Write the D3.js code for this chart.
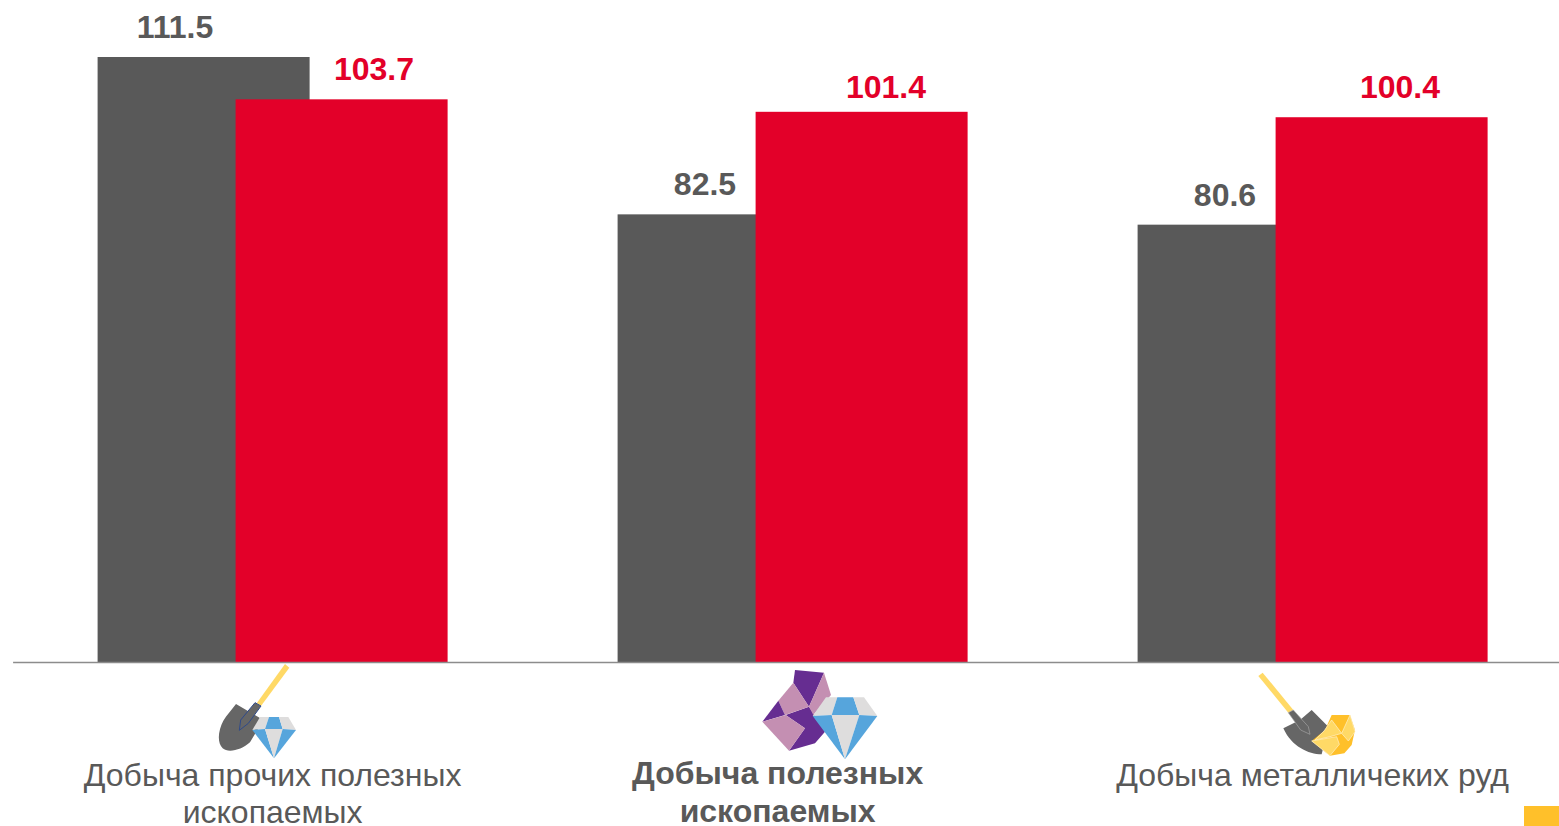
<!DOCTYPE html>
<html>
<head>
<meta charset="utf-8">
<script src="https://cdn.jsdelivr.net/npm/d3@7"></script>
<style>
    html, body { margin: 0; padding: 0; background: #fff; overflow: hidden; }
    svg { display: block; font-family: "Liberation Sans", Arial, sans-serif; }
</style>
</head>
<body>
<svg id="chart" width="1559" height="826"></svg>
<script>
// Chart values
const categories = ['Добыча прочих полезных ископаемых', 'Добыча полезных ископаемых', 'Добыча металличеких руд'];
const categoryLines = [['Добыча прочих полезных', 'ископаемых'], ['Добыча полезных', 'ископаемых'], ['Добыча металличеких руд']];
const seriesGray = [111.5, 82.5, 80.6];
const seriesRed = [103.7, 101.4, 100.4];

const GRAY = '#595959', RED = '#e30029', AXIS = '#8c8c8c';

let svg = d3.select('svg#chart'),
    baseline = 662;

let xScale = d3.scaleBand().domain(categories).range([12.6, 1572.6]);
let yScale = d3.scaleLinear().domain([0, 111.5]).range([baseline, 57]);

let barWidth = 212, overlap = 74;

// the labels were moved by hand in the original, so they are not centred on the bars
let grayNudge = [[-28.6, 0], [-18.6, 0], [-18.6, 0]];
let redNudge = [[32.4, 0], [24.4, 5], [18.4, 0]];

function grayX(i) {
    return xScale(categories[i]) + xScale.bandwidth() / 2 - barWidth + overlap / 2;
}
function redX(i) {
    return xScale(categories[i]) + xScale.bandwidth() / 2 - overlap / 2;
}

function drawSeries(values, xFn, color, nudge, cls) {
    svg.append('g').selectAll('rect.' + cls)
        .data(values)
        .enter().append('rect')
        .attr('class', cls)
        .attr('x', (d, i) => xFn(i))
        .attr('y', d => yScale(d))
        .attr('width', barWidth)
        .attr('height', d => baseline - yScale(d))
        .attr('fill', color);
    svg.append('g').selectAll('text.' + cls)
        .data(values)
        .enter().append('text')
        .attr('class', cls)
        .attr('x', (d, i) => xFn(i) + barWidth / 2 + nudge[i][0])
        .attr('y', (d, i) => yScale(d) - 19 + nudge[i][1])
        .attr('text-anchor', 'middle')
        .attr('font-size', 32)
        .attr('font-weight', 'bold')
        .attr('fill', color)
        .text(d => d.toFixed(1));
}

drawSeries(seriesGray, grayX, GRAY, grayNudge, 'gray');
drawSeries(seriesRed, redX, RED, redNudge, 'red');

// Axis with the category names, wrapped by hand
let xAxis = d3.axisBottom(xScale).tickSize(0).tickPadding(0);
let axisG = svg.append('g')
    .attr('transform', 'translate(0,' + baseline + ')')
    .call(xAxis);
axisG.select('.domain').attr('stroke', AXIS).attr('stroke-width', 1.3);

let labelDx = [0, -15, 0];
let labelDy = [124, 122, 124];
let lineGap = [37, 38, 37];
axisG.selectAll('.tick text').each(function (d, i) {
    let t = d3.select(this)
        .text(null)
        .attr('y', 0)
        .attr('dy', null)
        .attr('font-family', '"Liberation Sans", Arial, sans-serif')
        .attr('font-size', 32)
        .attr('font-weight', i === 1 ? 'bold' : 'normal')
        .attr('fill', GRAY);
    categoryLines[i].forEach(function (line, k) {
        t.append('tspan')
            .attr('x', labelDx[i])
            .attr('y', labelDy[i] + k * lineGap[i])
            .text(line);
    });
});

// Icons are traced at 3x, hence the scale
function icon(x, y) {
    return svg.append('g').attr('transform', 'translate(' + x + ',' + y + ') scale(' + (1 / 3) + ')');
}
function poly(g, pts, fill, stroke, sw) {
    g.append('polygon')
        .attr('points', pts.map(p => p.join(',')).join(' '))
        .attr('fill', fill)
        .attr('stroke', stroke || 'none')
        .attr('stroke-width', sw || 0)
        .attr('stroke-linejoin', 'round');
}
function diamond(g, top, right, bottom, left, a, b, m1, m2) {
    // top row then bottom row
    const LG = '#dedddd', BL = '#56a5dc';
    poly(g, [[top[0], top[2]], [a, top[2]], [m1, top[3]], [left, right[1]]], LG);
    poly(g, [[a, top[2]], [b, top[2]], [m2, top[3]], [m1, top[3]]], BL);
    poly(g, [[b, top[2]], [top[1], top[2]], [right[0], right[1]], [m2, top[3]]], LG);
    poly(g, [[left, right[1]], [m1, top[3]], bottom], BL);
    poly(g, [[m1, top[3]], [m2, top[3]], bottom], LG);
    poly(g, [[m2, top[3]], [right[0], right[1]], bottom], BL);
}

// shovel + diamond
let ic1 = icon(200, 655);
poly(ic1, [[255, 27], [268, 38], [183, 153], [170, 145]], '#ffd966');
ic1.append('path')
    .attr('d', 'M108,147 L190,195 L150,262 C125,285 85,295 68,280 C50,262 55,225 70,197 C80,180 95,165 108,147 Z')
    .attr('fill', '#666666');
poly(ic1, [[165, 143], [183, 153], [145, 205], [118, 226], [122, 195]], '#666666', '#2f4a8a', 3);
diamond(ic1, [180, 265, 186, 222], [288, 225], [222, 310], 157, 207, 237, 195, 248);

// rock + diamond
let ic2 = icon(750, 660);
const PURPLE = '#662d91', PINK = '#c48fb2';
poly(ic2, [[177, 140], [190, 160], [225, 215], [195, 250], [117, 272], [165, 205], [107, 165]], PURPLE);
poly(ic2, [[135, 30], [222, 38], [177, 140], [130, 68]], PURPLE);
poly(ic2, [[222, 38], [243, 105], [190, 165], [177, 140]], PINK);
poly(ic2, [[130, 68], [177, 140], [105, 165], [85, 122]], PINK);
poly(ic2, [[85, 122], [105, 165], [37, 185]], PURPLE);
poly(ic2, [[37, 185], [107, 165], [165, 205], [117, 272]], PINK);
diamond(ic2, [228, 342, 112, 165], [382, 168], [285, 298], 188, 262, 310, 245, 328);

// shovel + gold nugget
let ic3 = icon(1250, 665);
poly(ic3, [[25, 33], [38, 23], [130, 135], [115, 143]], '#ffd966');
ic3.append('path')
    .attr('d', 'M100,190 L150,165 L185,135 L235,185 L215,268 C175,268 125,245 100,190 Z')
    .attr('fill', '#666666');
poly(ic3, [[115, 143], [130, 135], [175, 185], [180, 208], [152, 195]], '#666666', '#a6a6a6', 2);
poly(ic3, [[245, 150], [300, 150], [315, 195], [305, 240], [283, 265], [240, 272], [185, 228], [225, 195]], '#ffc02a');
poly(ic3, [[222, 198], [245, 165], [275, 205], [240, 215], [195, 225]], '#ffd966', '#fff2cc', 2);
poly(ic3, [[300, 150], [315, 200], [295, 228], [275, 205]], '#ffd966', '#fff2cc', 2);
poly(ic3, [[185, 228], [260, 215], [268, 238], [240, 272]], '#ffd966', '#fff2cc', 2);

// yellow tab in the corner of the slide
svg.append('rect')
    .attr('x', 1524).attr('y', 806)
    .attr('width', 35).attr('height', 20)
    .attr('fill', '#ffc02a');
</script>
</body>
</html>
